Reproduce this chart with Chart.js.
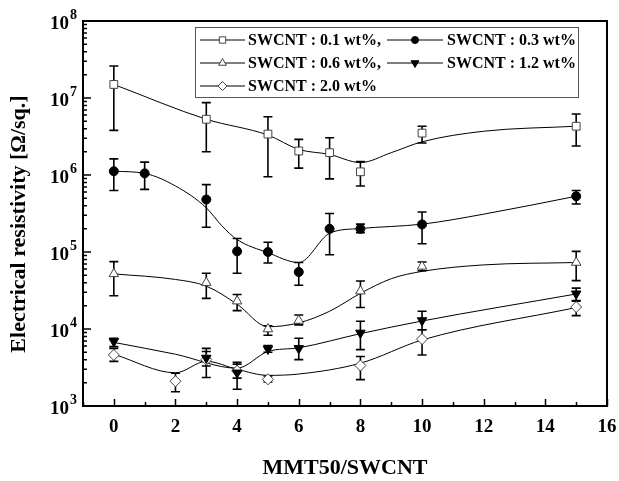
<!DOCTYPE html>
<html>
<head>
<meta charset="utf-8">
<script src="https://cdn.jsdelivr.net/npm/chart.js@4.4.1/dist/chart.umd.min.js"></script>
<style>
  html, body { margin: 0; padding: 0; background: #fff; }
  #wrap { width: 619px; height: 481px; }
</style>
</head>
<body>
<div id="wrap"><canvas id="chart" width="619" height="481"></canvas></div>
<script>
// measured points (x = MMT50/SWCNT ratio), with error bar limits
const labels = ['SWCNT : 0.1 wt%,', 'SWCNT : 0.3 wt%', 'SWCNT : 0.6 wt%,', 'SWCNT : 1.2 wt%', 'SWCNT : 2.0 wt%'];

const x01 = [0, 3, 5, 6, 7, 8, 10, 15];
const y01 = [1.5e7, 5.3e6, 3.4e6, 2.05e6, 1.95e6, 1.1e6, 3.5e6, 4.3e6];
const hi01 = [2.6e7, 8.7e6, 5.7e6, 2.9e6, 3.05e6, 1.49e6, 4.3e6, 6.2e6];
const lo01 = [3.8e6, 2.0e6, 9.5e5, 1.23e6, 8.9e5, 7.2e5, 2.6e6, 2.38e6];

const x03 = [0, 1, 3, 4, 5, 6, 7, 8, 10, 15];
const y03 = [1.12e6, 1.05e6, 4.8e5, 1.02e5, 1.0e5, 5.5e4, 2.0e5, 2.0e5, 2.28e5, 5.3e5];
const hi03 = [1.62e6, 1.47e6, 7.5e5, 1.5e5, 1.34e5, 7.3e4, 3.16e5, 2.3e5, 3.3e5, 6.3e5];
const lo03 = [6.3e5, 6.5e5, 2.1e5, 5.3e4, 7.2e4, 3.7e4, 9.2e4, 1.78e5, 1.28e5, 4.2e5];

const x06 = [0, 3, 4, 5, 6, 8, 10, 15];
const y06 = [5.2e4, 4.0e4, 2.3e4, 1.0e4, 1.29e4, 3.1e4, 6.5e4, 7.3e4];
const hi06 = [7.5e4, 5.3e4, 2.8e4, 1.1e4, 1.52e4, 4.2e4, 7.4e4, 1.02e5];
const lo06 = [2.7e4, 2.5e4, 1.73e4, 8.3e3, 1.13e4, 1.9e4, 5.7e4, 4.25e4];

const x12 = [0, 3, 4, 5, 6, 8, 10, 15];
const y12 = [6.9e3, 4.2e3, 2.7e3, 5.5e3, 5.6e3, 8.9e3, 1.29e4, 2.87e4];
const hi12 = [7.6e3, 5.6e3, 3.5e3, 6.1e3, 7.6e3, 1.26e4, 1.7e4, 3.4e4];
const lo12 = [5.9e3, 3.3e3, 1.65e3, 5.0e3, 4.0e3, 5.4e3, 9.8e3, 2.35e4];

const x20 = [0, 2, 3, 4, 5, 8, 10, 15];
const y20 = [4.6e3, 2.1e3, 4.0e3, 2.86e3, 2.22e3, 3.35e3, 7.4e3, 1.93e4];
const hi20 = [5.6e3, 2.66e3, 5.1e3, 3.7e3, 2.45e3, 4.4e3, 9.8e3, 2.3e4];
const lo20 = [3.8e3, 1.53e3, 2.35e3, 2.3e3, 2.05e3, 2.2e3, 4.6e3, 1.49e4];

// fitted curves
const c01x = [0, 3, 5, 6, 7, 8, 9, 10, 12, 15];
const c01y = [1.5e7, 5.3e6, 3.3e6, 2.15e6, 1.85e6, 1.45e6, 1.95e6, 2.7e6, 3.7e6, 4.3e6];
const c03x = [0, 1, 2, 3, 3.5, 4, 5, 6, 7, 8, 10, 12, 15];
const c03y = [1.12e6, 1.05e6, 7.2e5, 3.75e5, 2.2e5, 1.45e5, 9.8e4, 7.3e4, 1.75e5, 2.02e5, 2.3e5, 3.1e5, 5.3e5];
const c06x = [0, 2, 3, 4, 5, 6, 7, 8, 9, 10, 12, 15];
const c06y = [5.2e4, 4.4e4, 3.6e4, 2.1e4, 1.07e4, 1.2e4, 1.7e4, 2.9e4, 4.5e4, 5.6e4, 6.8e4, 7.3e4];
const c12x = [0, 2, 4, 5, 6, 8, 10, 15];
const c12y = [6.7e3, 4.7e3, 3.1e3, 5.1e3, 5.7e3, 8.7e3, 1.27e4, 2.85e4];
const c20x = [0, 2, 3, 4, 5, 6, 8, 10, 15];
const c20y = [4.7e3, 2.7e3, 3.8e3, 3.0e3, 2.5e3, 2.6e3, 3.6e3, 7.2e3, 1.9e4];

const xTicks = [0, 2, 4, 6, 8, 10, 12, 14, 16];
const yTicks = [3, 4, 5, 6, 7, 8];

const serif = "'Liberation Serif', 'Times New Roman', serif";

const pts = (xs, ys) => xs.map((x, i) => ({ x: x, y: ys[i] }));

const markers = [
  { pointStyle: 'rect', radius: 5.5, rotation: 0, fill: '#ffffff', stroke: '#444' },
  { pointStyle: 'circle', radius: 4.5, rotation: 0, fill: '#000000', stroke: '#000' },
  { pointStyle: 'triangle', radius: 5.5, rotation: 0, fill: '#ffffff', stroke: '#444' },
  { pointStyle: 'triangle', radius: 5.5, rotation: 180, fill: '#000000', stroke: '#000' },
  { pointStyle: 'rectRot', radius: 5.5, rotation: 0, fill: '#ffffff', stroke: '#444' }
];

const series = [
  { xs: x01, ys: y01, hi: hi01, lo: lo01, cx: c01x, cy: c01y },
  { xs: x03, ys: y03, hi: hi03, lo: lo03, cx: c03x, cy: c03y },
  { xs: x06, ys: y06, hi: hi06, lo: lo06, cx: c06x, cy: c06y },
  { xs: x12, ys: y12, hi: hi12, lo: lo12, cx: c12x, cy: c12y },
  { xs: x20, ys: y20, hi: hi20, lo: lo20, cx: c20x, cy: c20y }
];

const datasets = [];
series.forEach((s, i) => {
  const m = markers[i];
  datasets.push({
    label: labels[i],
    data: pts(s.xs, s.ys),
    showLine: false,
    pointStyle: m.pointStyle,
    pointRadius: m.radius,
    pointRotation: m.rotation,
    pointBackgroundColor: m.fill,
    pointBorderColor: m.stroke,
    pointBorderWidth: 1,
    order: 1,
    errHi: s.hi,
    errLo: s.lo
  });
  datasets.push({
    label: labels[i] + ' fit',
    data: pts(s.cx, s.cy),
    showLine: true,
    borderColor: '#000',
    borderWidth: 1,
    pointRadius: 0,
    cubicInterpolationMode: 'monotone',
    fill: false,
    order: 2
  });
});

// error bars, drawn under the markers and curves
const errorBars = {
  id: 'errorBars',
  beforeDatasetsDraw(chart) {
    const ctx = chart.ctx;
    const xs = chart.scales.x, ys = chart.scales.y;
    ctx.save();
    ctx.strokeStyle = '#000';
    ctx.lineWidth = 1.6;
    chart.data.datasets.forEach(ds => {
      if (!ds.errHi) return;
      ds.data.forEach((p, j) => {
        const px = xs.getPixelForValue(p.x);
        const top = ys.getPixelForValue(ds.errHi[j]);
        const bot = ys.getPixelForValue(ds.errLo[j]);
        ctx.beginPath();
        ctx.moveTo(px, top); ctx.lineTo(px, bot);
        ctx.moveTo(px - 4.5, top); ctx.lineTo(px + 4.5, top);
        ctx.moveTo(px - 4.5, bot); ctx.lineTo(px + 4.5, bot);
        ctx.stroke();
      });
    });
    ctx.restore();
  }
};

// frame, inward ticks, tick labels, axis titles and legend box
const decor = {
  id: 'decor',
  afterDraw(chart) {
    const ctx = chart.ctx;
    const a = chart.chartArea;
    const xs = chart.scales.x, ys = chart.scales.y;
    ctx.save();
    ctx.strokeStyle = '#000';
    ctx.fillStyle = '#000';

    // ticks
    ctx.lineWidth = 1.5;
    ctx.beginPath();
    for (let v = -1; v <= 16; v++) {
      const px = Math.round(xs.getPixelForValue(v)) + 0.5;
      const len = (v % 2 === 0) ? 7 : 4;
      ctx.moveTo(px, a.bottom); ctx.lineTo(px, a.bottom - len);
    }
    for (let e = 3; e <= 8; e++) {
      const py = ys.getPixelForValue(Math.pow(10, e));
      ctx.moveTo(a.left, py); ctx.lineTo(a.left + 8, py);
      if (e < 8) {
        for (let k = 2; k <= 9; k++) {
          const pm = ys.getPixelForValue(k * Math.pow(10, e));
          ctx.moveTo(a.left, pm); ctx.lineTo(a.left + 4, pm);
        }
      }
    }
    ctx.stroke();

    // frame
    ctx.lineWidth = 2;
    ctx.strokeRect(a.left, a.top, a.right - a.left, a.bottom - a.top);

    // x tick labels
    ctx.font = 'bold 19px ' + serif;
    ctx.textAlign = 'center';
    ctx.textBaseline = 'middle';
    xTicks.forEach(v => {
      ctx.fillText(String(v), xs.getPixelForValue(v), a.bottom + 21);
    });

    // y tick labels 10^n
    yTicks.forEach(e => {
      const py = ys.getPixelForValue(Math.pow(10, e));
      ctx.font = 'bold 19px ' + serif;
      ctx.textAlign = 'right';
      ctx.fillText('10', a.left - 14, py + 3);
      ctx.font = 'bold 14px ' + serif;
      ctx.textAlign = 'left';
      ctx.fillText(String(e), a.left - 13, py - 6);
    });

    // axis titles
    ctx.font = 'bold 22px ' + serif;
    ctx.textAlign = 'center';
    ctx.fillText('MMT50/SWCNT', (a.left + a.right) / 2, 468);
    ctx.save();
    ctx.translate(19, 224);
    ctx.rotate(-Math.PI / 2);
    ctx.fillText('Electrical resistivity [\u03A9/sq.]', 0, 0);
    ctx.restore();

    // legend
    const box = { l: 195, t: 27, r: 578, b: 97 };
    ctx.lineWidth = 1;
    ctx.strokeStyle = '#555';
    ctx.strokeRect(box.l + 0.5, box.t + 0.5, box.r - box.l, box.b - box.t);
    const rows = [40, 63, 86];
    const cols = [{ l: 200, r: 245, t: 248 }, { l: 387, r: 443, t: 447 }];
    ctx.font = 'bold 16px ' + serif;
    ctx.textAlign = 'left';
    labels.forEach((lab, i) => {
      const col = cols[i % 2];
      const y = rows[Math.floor(i / 2)];
      ctx.strokeStyle = '#000';
      ctx.lineWidth = 1;
      ctx.beginPath();
      ctx.moveTo(col.l, y); ctx.lineTo(col.r, y);
      ctx.stroke();
      const m = markers[i];
      ctx.fillStyle = m.fill;
      ctx.strokeStyle = m.stroke;
      Chart.helpers.drawPoint(ctx, {
        pointStyle: m.pointStyle, radius: m.radius - 1, rotation: m.rotation, borderWidth: 1
      }, (col.l + col.r) / 2, y);
      ctx.fillStyle = '#000';
      ctx.fillText(lab, col.t, y + 1);
    });
    ctx.restore();
  }
};

new Chart(document.getElementById('chart'), {
  type: 'scatter',
  data: { datasets: datasets },
  options: {
    responsive: false,
    animation: false,
    devicePixelRatio: 1,
    layout: { padding: { left: 83, right: 12, top: 21, bottom: 75 } },
    plugins: { legend: { display: false }, tooltip: { enabled: false } },
    scales: {
      x: {
        type: 'linear', min: -1, max: 16,
        ticks: { display: false },
        grid: { display: false, drawTicks: false },
        border: { display: false },
        afterFit(s) { s.height = 0; }
      },
      y: {
        type: 'logarithmic', min: 1e3, max: 1e8,
        ticks: { display: false },
        grid: { display: false, drawTicks: false },
        border: { display: false },
        afterFit(s) { s.width = 0; }
      }
    }
  },
  plugins: [errorBars, decor]
});
</script>
</body>
</html>
